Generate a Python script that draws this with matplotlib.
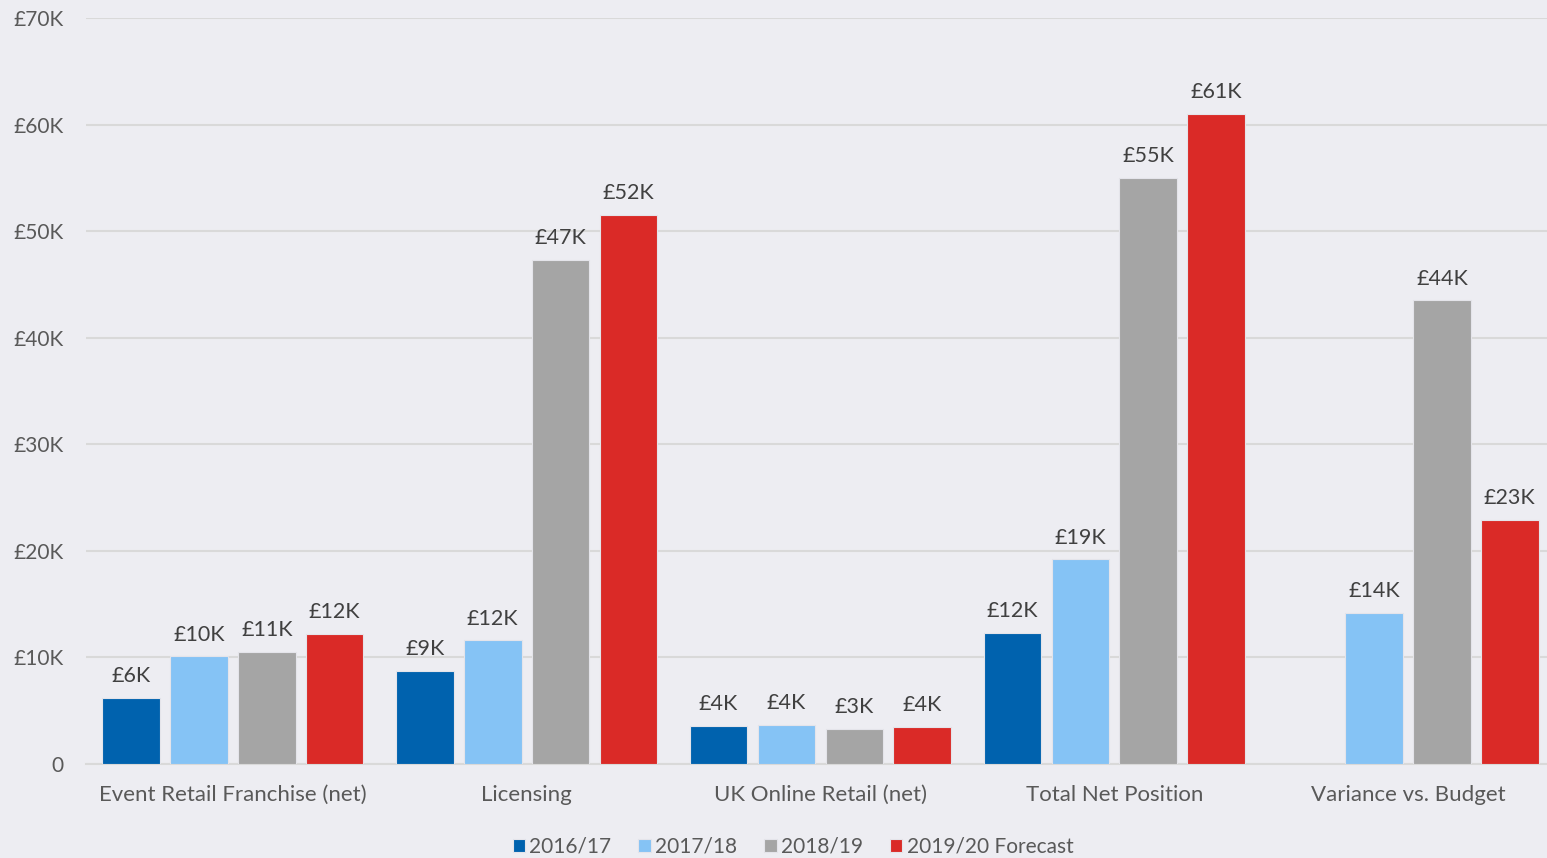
import numpy as np
import matplotlib.pyplot as plt
from matplotlib.ticker import FuncFormatter

plt.rcParams['font.family'] = ['Lato', 'DejaVu Sans']

## Dados (em milhares de libras)
categorias = ['Event Retail Franchise (net)', 'Licensing', 'UK Online Retail (net)',
              'Total Net Position', 'Variance vs. Budget']
anos = ['2016/17', '2017/18', '2018/19', '2019/20 Forecast']
v_2016 = [6.2, 8.7, 3.6, 12.3, np.nan]
v_2017 = [10.1, 11.6, 3.7, 19.2, 14.2]
v_2018 = [10.5, 47.3, 3.3, 55.0, 43.5]
v_2019 = [12.2, 51.5, 3.5, 61.0, 22.9]
cores = ['#0062AE', '#85C3F5', '#A5A5A5', '#DA2A27']

series = [v_2016, v_2017, v_2018, v_2019]
fundo = '#EDEDF2'
cinza_txt = '#404040'

fig = plt.figure(figsize=(15.47, 8.58), dpi=100, facecolor=fundo)
ax = fig.add_axes([0.0556, 0.1096, 0.9444, 0.8694])
ax.set_facecolor(fundo)

x = np.arange(len(categorias))
passo = 0.231
largura = 0.196
for i, (vals, cor, nome) in enumerate(zip(series, cores, anos)):
    pos = x + (i - 1.5) * passo
    ax.bar(pos, vals, largura, color=cor, edgecolor='#E4E4EA', linewidth=0.8,
           label=nome, zorder=3)
    for xp, v in zip(pos, vals):
        if np.isnan(v):
            continue
        ax.annotate('£%dK' % int(np.floor(v + 0.5)), (xp, v), xytext=(0, 8.5),
                    textcoords='offset points', ha='center', va='bottom',
                    fontsize=15.5, color=cinza_txt)

## Eixos
ax.set_ylim(0, 70)
ax.set_xlim(-0.5, 4.473)
ax.set_yticks(np.arange(0, 71, 10))
ax.yaxis.set_major_formatter(FuncFormatter(lambda v, p: '0' if v == 0 else '£%dK' % v))
ax.set_xticks(x)
ax.set_xticklabels(categorias, fontsize=16)
ax.tick_params(axis='both', length=0, labelcolor='#595959')
ax.tick_params(axis='y', pad=16, labelsize=15)
ax.tick_params(axis='x', pad=15)
ax.grid(axis='y', color='#D9D9D9', linewidth=1.5, zorder=0)
for s in ['left', 'right', 'top']:
    ax.spines[s].set_visible(False)
ax.spines['bottom'].set_color('#D9D9D9')
ax.spines['bottom'].set_linewidth(1.5)

fig.legend(loc='center', bbox_to_anchor=(793 / 1547, 0.013), ncol=4, frameon=False,
           fontsize=15, handlelength=0.6, handleheight=0.6, handletextpad=0.2,
           columnspacing=1.3, labelcolor='#595959')

plt.savefig('out.png', dpi=100, facecolor=fundo)
